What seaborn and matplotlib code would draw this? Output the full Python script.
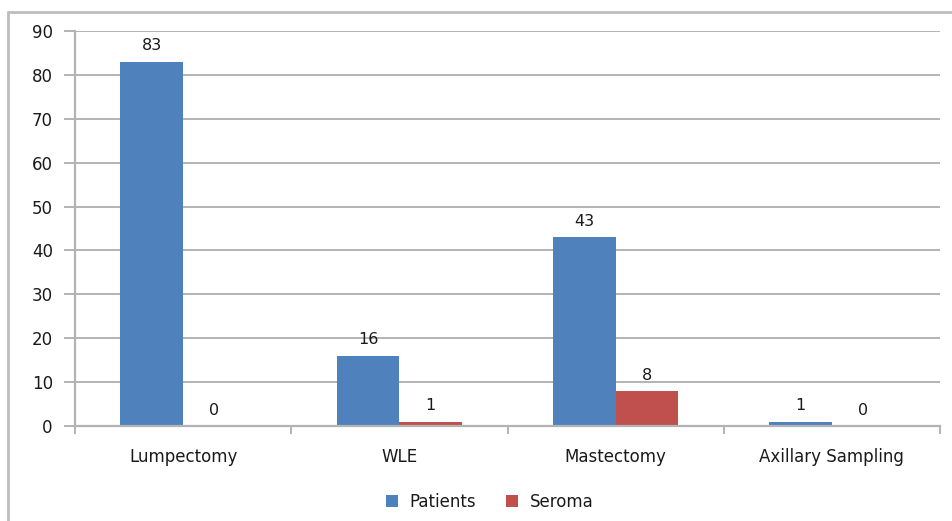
import matplotlib
matplotlib.use("Agg")
import matplotlib.pyplot as plt
from matplotlib.lines import Line2D
from matplotlib.patches import Patch
import pandas as pd
import seaborn as sns

procedures = ["Lumpectomy", "WLE", "Mastectomy", "Axillary Sampling"]
patients = [83, 16, 43, 1]
seroma = [0, 1, 8, 0]
series_names = ["Patients", "Seroma"]
colors = ["#4F81BD", "#C0504D"]
y_ticks = [0, 10, 20, 30, 40, 50, 60, 70, 80, 90]

df = pd.DataFrame({
    "Procedure": procedures * 2,
    "Count": patients + seroma,
    "Series": [series_names[0]] * len(procedures) + [series_names[1]] * len(procedures),
})

sns.set_theme(style="white")
plt.rcParams["font.family"] = ["DejaVu Sans"]
plt.rcParams["font.size"] = 11

fig = plt.figure(figsize=(9.52, 5.21), dpi=100)
ax = fig.add_axes([75 / 952, 1 - 426 / 521, (940 - 75) / 952, (426 - 31) / 521])

sns.barplot(data=df, x="Procedure", y="Count", hue="Series", order=procedures,
            hue_order=series_names, palette=colors, width=0.58, gap=0,
            saturation=1, ax=ax, legend=False, errorbar=None,
            edgecolor="none", linewidth=0)

text_color = "#1A1A1A"
for container in ax.containers:
    ax.bar_label(container, fmt="%d", padding=6, fontsize=11.5, color=text_color)

grid_color = "#B3B3B3"
ax.set_ylim(0, 90)
ax.set_yticks(y_ticks)
ax.set_xlim(-0.5, len(procedures) - 0.5)
ax.yaxis.grid(True, color=grid_color, linewidth=1.4)
ax.set_axisbelow(True)
ax.set_xlabel("")
ax.set_ylabel("")

for side in ["top", "right"]:
    ax.spines[side].set_visible(False)
for side in ["left", "bottom"]:
    ax.spines[side].set_color(grid_color)
    ax.spines[side].set_linewidth(1.6)

ax.tick_params(axis="y", which="major", length=8, width=1.4, color=grid_color,
               labelsize=12, pad=8, labelcolor=text_color, left=True)
ax.tick_params(axis="x", which="major", length=0, labelsize=12, pad=16,
               labelcolor=text_color)
ax.set_xticks([i - 0.5 for i in range(len(procedures) + 1)], minor=True)
ax.tick_params(axis="x", which="minor", length=6, width=1.4, color=grid_color,
               bottom=True)

handles = [Patch(facecolor=c, edgecolor="none") for c in colors]
fig.legend(handles, series_names, loc="center", bbox_to_anchor=(490 / 952, 1 - 502 / 521),
           ncol=2, frameon=False, fontsize=12, handlelength=0.7, handleheight=0.7,
           handletextpad=0.7, columnspacing=1.8, labelcolor=text_color)

# chart frame
border = "#BDBDBD"
fig.add_artist(Line2D([8 / 952, 8 / 952], [0, 1 - 12 / 521], transform=fig.transFigure,
                      color=border, linewidth=2))
fig.add_artist(Line2D([8 / 952, 1], [1 - 12 / 521, 1 - 12 / 521], transform=fig.transFigure,
                      color=border, linewidth=2))

fig.savefig("out.png", dpi=100, facecolor="white")
